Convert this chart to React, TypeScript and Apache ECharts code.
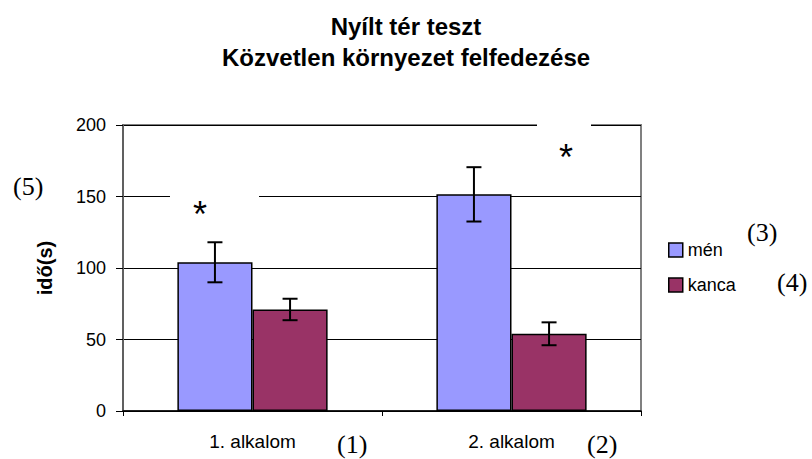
import React, { useEffect, useRef } from "react";
import * as echarts from "echarts";

const categories = ["1. alkalom", "2. alkalom"];
const menValues = [104, 151.5];
const menErrors = [14, 19];
const kancaValues = [71, 54];
const kancaErrors = [7.5, 8];
const yTicks = { min: 0, max: 200, interval: 50 };

const SANS = "Liberation Sans, Arial, sans-serif";
const SERIF = "Liberation Serif, Times New Roman, serif";
const GAP = 0.42;

function errorSeries(name: string, values: number[], errs: number[], side: number) {
  return {
    type: "custom",
    name: name + "-err",
    z: 10,
    silent: true,
    data: values.map((v, i) => [i, v - errs[i], v + errs[i]]),
    renderItem: (params: any, api: any) => {
      const idx = api.value(0);
      const lo = api.coord([idx, api.value(1)]);
      const hi = api.coord([idx, api.value(2)]);
      const band = api.size([1, 0])[0];
      const bw = (band * (1 - GAP)) / 2;
      const x = lo[0] + (side * bw) / 2;
      const cap = 7.5;
      const style = { stroke: "#000", lineWidth: 2 };
      return {
        type: "group",
        children: [
          { type: "line", shape: { x1: x, y1: lo[1], x2: x, y2: hi[1] }, style },
          { type: "line", shape: { x1: x - cap, y1: hi[1], x2: x + cap, y2: hi[1] }, style },
          { type: "line", shape: { x1: x - cap, y1: lo[1], x2: x + cap, y2: lo[1] }, style },
        ],
      };
    },
  };
}

export default function App() {
  const ref = useRef<HTMLDivElement>(null);
  useEffect(() => {
    const chart = echarts.init(ref.current!, null, { renderer: "svg" });
    const serifText = (t: string, x: number, y: number) => ({
      type: "text",
      x,
      y,
      style: { text: t, font: "26px " + SERIF, fill: "#000", textVerticalAlign: "middle" },
    });
    chart.setOption({
      animation: false,
      backgroundColor: "#fff",
      title: {
        text: "Nyílt tér teszt\nKözvetlen környezet felfedezése",
        left: "center",
        top: 6,
        textStyle: { fontFamily: SANS, fontSize: 24, fontWeight: "bold", color: "#000", lineHeight: 31 },
      },
      grid: {
        left: 123,
        right: 171,
        top: 125,
        bottom: 48,
        show: true,
        borderColor: "#808080",
        borderWidth: 2,
        backgroundColor: "transparent",
      },
      legend: {
        orient: "vertical",
        left: 668,
        top: 241,
        padding: 0,
        itemWidth: 14,
        itemHeight: 14,
        itemGap: 17,
        icon: "rect",
        data: ["mén", "kanca"],
        textStyle: { fontFamily: SANS, fontSize: 18, color: "#000" },
        itemStyle: { borderColor: "#000", borderWidth: 1.5 },
      },
      xAxis: {
        type: "category",
        data: categories,
        axisLine: { lineStyle: { color: "#000", width: 1.5 } },
        axisTick: { show: true, length: 5, lineStyle: { color: "#000" } },
        axisLabel: { fontFamily: SANS, fontSize: 19, color: "#000", margin: 21 },
      },
      yAxis: {
        type: "value",
        min: yTicks.min,
        max: yTicks.max,
        interval: yTicks.interval,
        name: "idő(s)",
        nameLocation: "middle",
        nameRotate: 90,
        nameGap: 68,
        nameTextStyle: { fontFamily: SANS, fontSize: 20, fontWeight: "bold", color: "#000" },
        axisLine: { show: true, lineStyle: { color: "#606060", width: 2 } },
        axisTick: { show: true, length: 7, lineStyle: { color: "#000" } },
        axisLabel: { fontFamily: SANS, fontSize: 18, color: "#000", margin: 17 },
        splitLine: { show: true, lineStyle: { color: "#000", width: 1 } },
      },
      series: [
        {
          type: "bar",
          name: "mén",
          data: menValues,
          barGap: "0%",
          barCategoryGap: "42%",
          itemStyle: { color: "#9999FF", borderColor: "#000", borderWidth: 1.5 },
        },
        {
          type: "bar",
          name: "kanca",
          data: kancaValues,
          barGap: "0%",
          barCategoryGap: "42%",
          itemStyle: { color: "#993366", borderColor: "#000", borderWidth: 1.5 },
        },
        errorSeries("mén", menValues, menErrors, -1),
        errorSeries("kanca", kancaValues, kancaErrors, 1),
      ],
      graphic: [
        { type: "rect", z: 100, shape: { x: 170, y: 186, width: 89, height: 40 }, style: { fill: "#fff" } },
        { type: "rect", z: 100, shape: { x: 537, y: 122, width: 54, height: 50 }, style: { fill: "#fff" } },
        { type: "text", z: 101, x: 200, y: 214, style: { text: "*", font: "36px " + SANS, fill: "#000", textAlign: "center", textVerticalAlign: "middle" } },
        { type: "text", z: 101, x: 566, y: 157, style: { text: "*", font: "36px " + SANS, fill: "#000", textAlign: "center", textVerticalAlign: "middle" } },
        serifText("(5)", 13, 186),
        serifText("(3)", 747, 232),
        serifText("(4)", 777, 282),
        serifText("(1)", 337, 444),
        serifText("(2)", 587, 444),
      ],
    });
    return () => chart.dispose();
  }, []);
  return <div ref={ref} style={{ width: 812, height: 459, position: "absolute", left: 0, top: 0 }} />;
}
